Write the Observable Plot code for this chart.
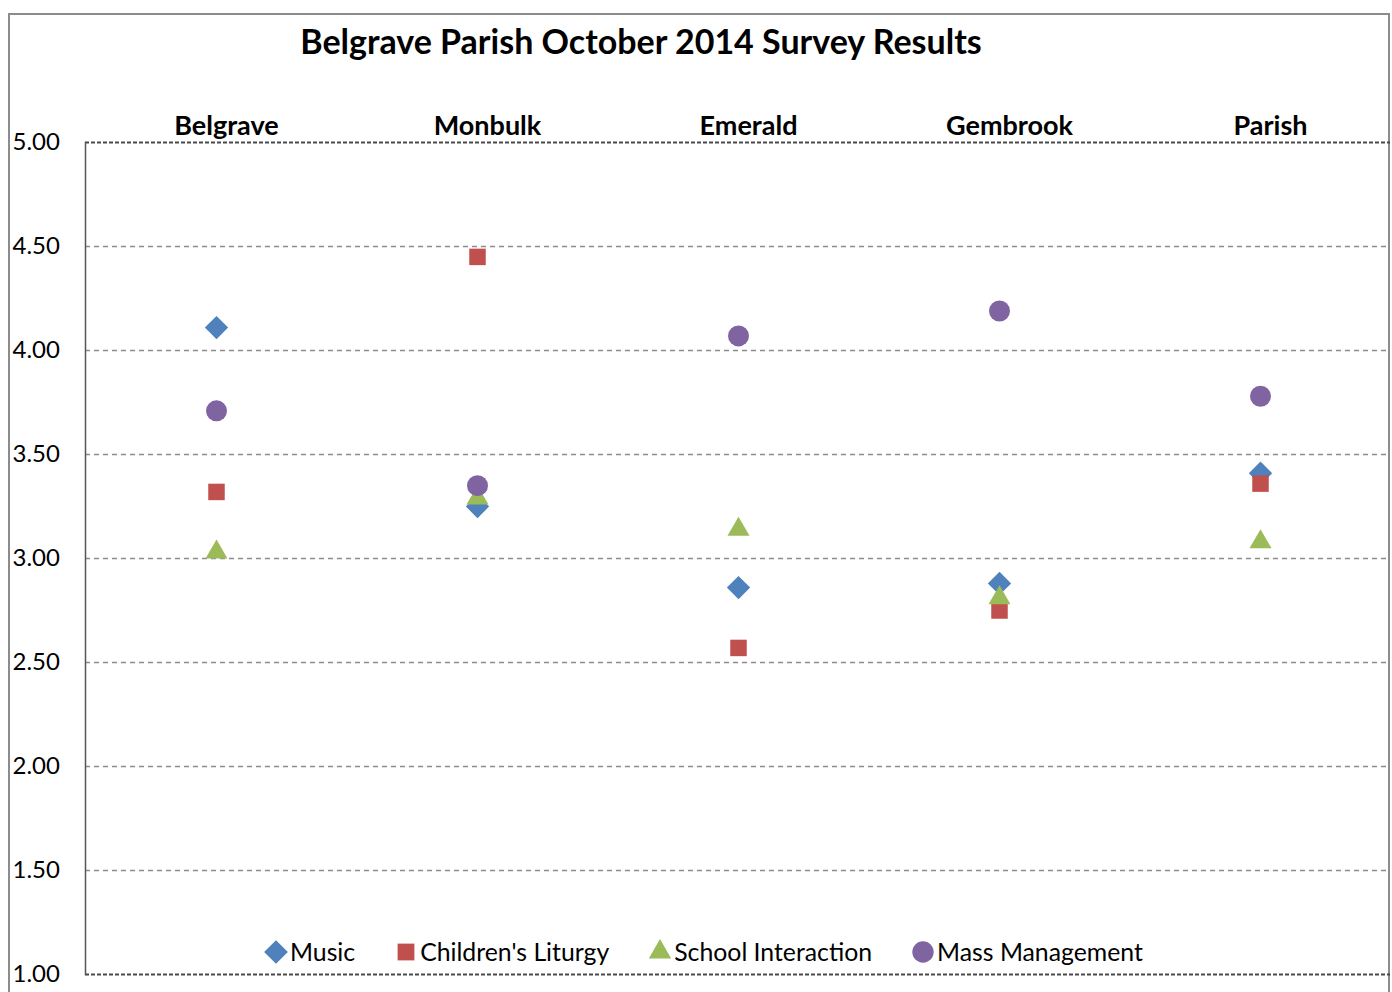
<!DOCTYPE html>
<html>
<head>
<meta charset="utf-8">
<script src="https://cdn.jsdelivr.net/npm/d3@7"></script>
<script src="https://cdn.jsdelivr.net/npm/@observablehq/plot@0.6"></script>
<style>
  html, body { margin: 0; padding: 0; background: #fff; }
  #wrap { position: relative; width: 1392px; height: 992px; overflow: hidden; font-family: Lato, "Open Sans", sans-serif; }
  #outer { position: absolute; left: 8px; top: 13px; width: 1382px; height: 1000px; border: 2px solid #8c8c8c; box-sizing: border-box; }
  #chart { position: absolute; left: 0; top: 0; }
  #title { position: absolute; left: 0; top: 20px; width: 1282px; text-align: center; font-weight: bold; font-size: 34px; color: #000; }
  #legend { position: absolute; left: 267px; top: 935px; }
  #legend * { font-family: Lato, "Open Sans", sans-serif !important; font-size: 24.8px !important; color: #000 !important; }
  #legend > div, #legend > * { margin: 0 !important; }
  #legend span { margin-right: 42px !important; }
  #legend svg { margin-right: 5px !important; }
</style>
</head>
<body>
<div id="wrap">
  <div id="outer"></div>
  <div id="chart"></div>
  <div id="title">Belgrave Parish October 2014 Survey Results</div>
  <div id="legend"></div>
</div>
<script>
const categories = ["Belgrave", "Monbulk", "Emerald", "Gembrook", "Parish"];
const series = ["Music", "Children's Liturgy", "School Interaction", "Mass Management"];
const music = [4.11, 3.25, 2.86, 2.88, 3.41];
const childrensLiturgy = [3.32, 4.45, 2.57, 2.75, 3.36];
const schoolInteraction = [3.03, 3.29, 3.14, 2.81, 3.08];
const massManagement = [3.71, 3.35, 4.07, 4.19, 3.78];
const yTicks = [1.0, 1.5, 2.0, 2.5, 3.0, 3.5, 4.0, 4.5, 5.0];

const colors = ["#4F81BD", "#C0504D", "#9BBB59", "#8064A2"];
const symbols = ["diamond2", "square2", "triangle2", "circle"];

const valuesBySeries = [music, childrensLiturgy, schoolInteraction, massManagement];
const rows = [];
series.forEach((s, i) => {
  categories.forEach((c, j) => rows.push({series: s, category: c, value: valuesBySeries[i][j]}));
});

const chart = Plot.plot({
  width: 1392,
  height: 992,
  marginLeft: 85,
  marginRight: 2,
  marginTop: 142,
  marginBottom: 18,
  style: {background: "transparent", fontFamily: "Lato, 'Open Sans', sans-serif"},
  x: {type: "point", domain: categories, padding: 0.5, axis: null},
  y: {domain: [1, 5], axis: null},
  symbol: {domain: series, range: symbols},
  color: {domain: series, range: colors},
  marks: [
    Plot.ruleY(yTicks.filter(v => v > 1 && v < 5), {stroke: "#8c8c8c", strokeWidth: 1.5, strokeDasharray: "5,4"}),
    Plot.ruleY([1, 5], {stroke: "#4a4a4a", strokeWidth: 2, strokeDasharray: "4,2"}),
    Plot.frame({anchor: "left", stroke: "#555", strokeWidth: 1.5}),
    Plot.text(yTicks, {y: d => d, text: d => d.toFixed(2), frameAnchor: "left", textAnchor: "start", dx: -73, fontSize: 24, fill: "#000"}),
    Plot.text(categories, {x: d => d, text: d => d, frameAnchor: "top", lineAnchor: "middle", dy: -16, dx: 10, fontSize: 27, fontWeight: "bold", fill: "#000"}),
    Plot.dot(rows, {x: "category", y: "value", symbol: "series", fill: "series", r: 10.5, stroke: "none"})
  ]
});
document.getElementById("chart").appendChild(chart);

const legend = chart.legend("symbol", {r: 9.5, swatchSize: 18});
document.getElementById("legend").appendChild(legend);
</script>
</body>
</html>
